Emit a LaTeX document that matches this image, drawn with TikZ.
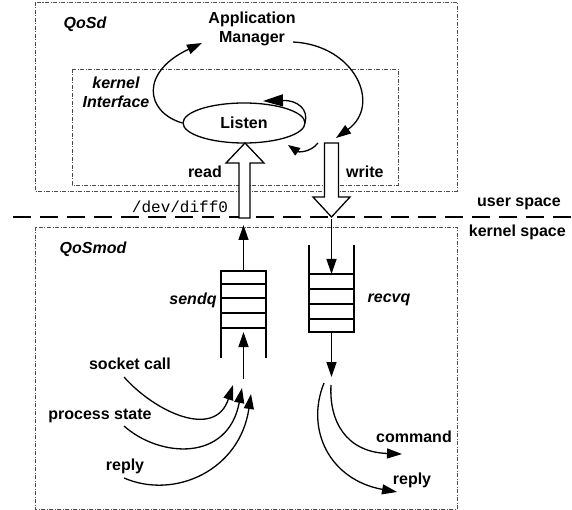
\documentclass[tikz,border=0pt]{standalone}
\usepackage{fontspec}
\setmainfont{Liberation Sans}
\setmonofont{Liberation Mono}
\usetikzlibrary{shapes.geometric,arrows.meta}
\begin{document}
\begin{tikzpicture}[x=1pt,y=-1pt,
  lbl/.style={font=\fontsize{16}{19}\selectfont\bfseries, inner sep=0pt},
  ilbl/.style={font=\fontsize{16}{19}\selectfont\bfseries\itshape, inner sep=0pt},
  mono/.style={font=\fontsize{16}{19}\selectfont\ttfamily, inner sep=0pt},
  region/.style={draw=black!70, line width=0.6pt, dash pattern=on 4pt off 1.5pt on 1pt off 1.5pt},
  flow/.style={line width=1.3pt, -{Triangle[length=15pt,width=10pt]}},
  bigarrow/.style={draw, fill=white, line width=1.3pt, line join=miter},
  queue/.style={line width=1.3pt}]
\useasboundingbox (0,0) rectangle (572,510);

% regions
\draw[region] (35,2) rectangle (457,191);
\draw[region] (72,69) rectangle (398,185);
\draw[region] (35,227) rectangle (457,509);

% user / kernel boundary
\coordinate (bl) at (13,217);
\coordinate (br) at (572,217);
\draw[line width=2pt, dash pattern=on 18pt off 9pt] (bl) -- (br);

% labels of regions
\node[ilbl] (qosd) at (85,24) {QoSd};
\node[ilbl, align=center] (kif) at (116,92) {kernel\\Interface};
\node[ilbl] (qosmod) at (93,249) {QoSmod};
\node[lbl, anchor=east] (uspace) at (561,204) {user space};
\node[lbl, anchor=east] (kspace) at (566,232) {kernel space};

% daemon parts
\node[lbl, align=center] (appmgr) at (252,29) {Application\\Manager};
\node[ellipse, draw, line width=1.3pt, minimum width=122pt, minimum height=40pt, lbl] (listen) at (244,123) {Listen};

% read / write block arrows
\draw[bigarrow] (239,218) -- (239,163) -- (226,163) -- (245,143) -- (264,163) -- (250,163) -- (250,218) -- cycle;
\draw[bigarrow] (324.5,143) -- (338.5,143) -- (338.5,197) -- (350,197) -- (331.5,217) -- (313,197) -- (324.5,197) -- cycle;
\node[lbl, anchor=east] (read) at (222,172) {read};
\node[lbl, anchor=west] (write) at (346,172) {write};
\node[mono] (dev) at (180,207) {/dev/diff0};

% loops in the daemon
\coordinate (amin) at (202,43);
\coordinate (amout) at (293,42);
\coordinate (wtop) at (336,138);
\coordinate (lre) at (305,123);
\coordinate (ltop) at (263,101);
\coordinate (wl) at (318,143);
\coordinate (lb) at (288,145);
\draw[flow] (listen.west) .. controls (145,112) and (140,72) .. (amin);
\draw[flow] (amout) .. controls (355,45) and (382,105) .. (wtop);
\draw[flow, -{Triangle[length=20pt,width=12pt]}] (lre) .. controls (309,109) and (297,100) .. (ltop);
\draw[flow, -{Triangle[length=12pt,width=9pt]}] (wl) .. controls (310,153) and (298,152) .. (lb);

% queues
\coordinate (sq) at (243.5,271);
\coordinate (sqb) at (243.5,332);
\draw[queue] (221,358) -- (221,271) -- (266,271) -- (266,358);
\foreach \yy in {284,298,313,328} \draw[queue] (221,\yy) -- (266,\yy);
\coordinate (rq) at (331.5,274);
\coordinate (rqb) at (331.5,332);
\draw[queue] (309,245) -- (309,332) -- (354,332) -- (354,245);
\foreach \yy in {274,289,304,319} \draw[queue] (309,\yy) -- (354,\yy);
\node[ilbl] (sendq) at (193,300) {sendq};
\node[ilbl] (recvq) at (389,300) {recvq};

\coordinate (sup) at (243.5,225);
\coordinate (rdn) at (331.5,219);
\coordinate (sin) at (243.5,379);
\coordinate (rout) at (331.5,377);
\draw[flow] (sq) -- (sup);
\draw[flow] (rdn) -- (rq);
\draw[flow] (sin) -- (sqb);
\draw[flow] (rqb) -- (rout);

% sources feeding sendq
\node[lbl] (sock) at (130,364) {socket call};
\node[lbl] (proc) at (100,416) {process state};
\node[lbl] (rep1) at (125,466) {reply};
\coordinate (s1) at (124,377);
\coordinate (s2) at (124,426);
\coordinate (s3) at (124,478);
\coordinate (t1) at (233,385);
\coordinate (t2) at (242,388);
\coordinate (t3) at (251,394);
\draw[flow] (s1) .. controls (155,412) and (215,440) .. (t1);
\draw[flow] (s2) .. controls (160,458) and (228,462) .. (t2);
\draw[flow] (s3) .. controls (175,500) and (240,470) .. (t3);

% results taken from recvq
\node[lbl] (cmd) at (414,437) {command};
\node[lbl] (rep2) at (412,480) {reply};
\coordinate (r1) at (331,385);
\coordinate (r2) at (324,383);
\coordinate (u1) at (402,454);
\coordinate (u2) at (397,492);
\draw[flow] (r1) .. controls (329,420) and (345,452) .. (u1);
\draw[flow] (r2) .. controls (305,430) and (330,480) .. (u2);
\end{tikzpicture}
\end{document}
